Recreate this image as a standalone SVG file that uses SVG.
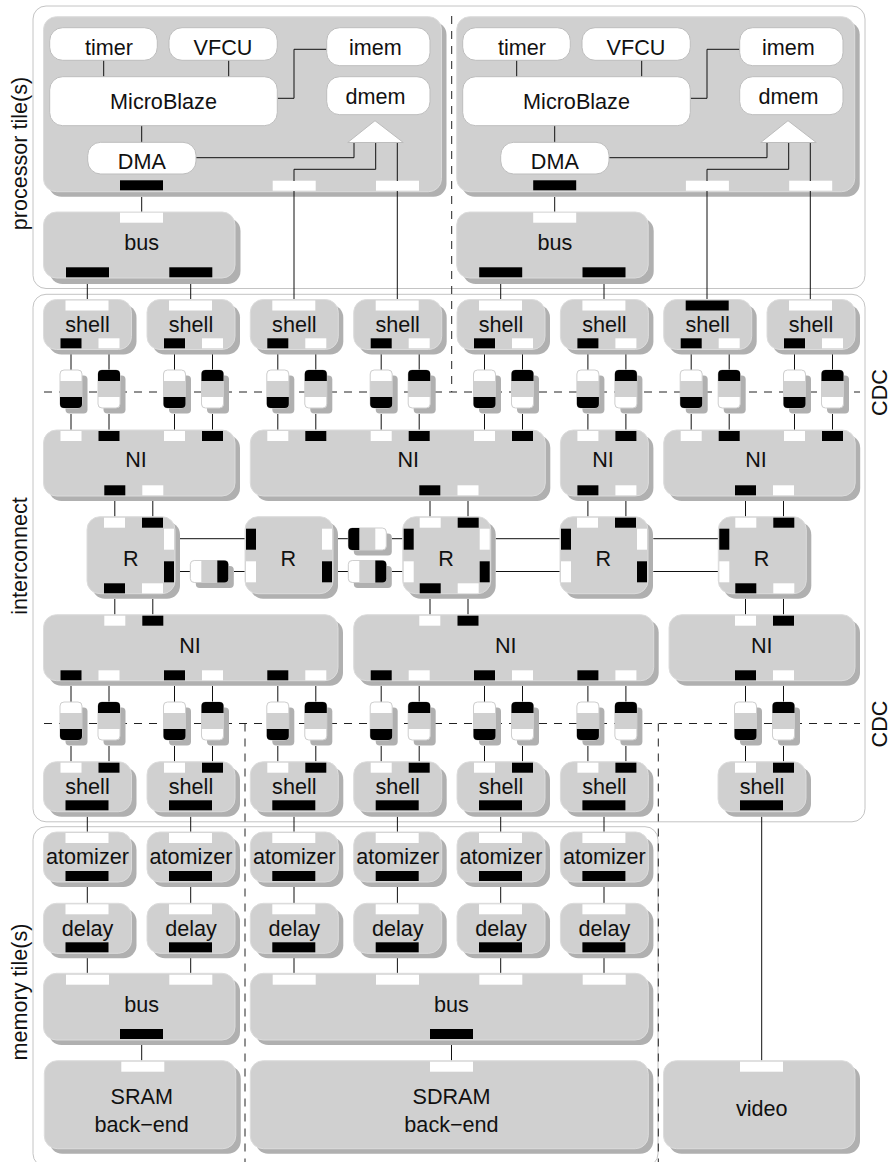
<svg xmlns="http://www.w3.org/2000/svg" width="888" height="1162" viewBox="0 0 888 1162">
<style>
text{font-family:"Liberation Sans",Arial,sans-serif;font-size:21.6px;fill:#111;text-anchor:middle}
.f{fill:none;stroke:#c4c4c4;stroke-width:1}
.sh{fill:#b0b0b0}
.n{fill:#d0d0d0;stroke:#dcdcdc;stroke-width:1}
.r{rx:13px;ry:13px}
.m{fill:#fff;stroke:#bdbdbd;stroke-width:1;rx:13px;ry:13px}
.k{fill:#000}
.w{fill:#fff}
.s{width:21px;height:10px}
.l{width:43px;height:10px}
.v{width:10px;height:21px}
.c{fill:#d0d0d0}
.o{fill:none;stroke:#cfcfcf;stroke-width:1}
#connectors path{fill:none;stroke:#111;stroke-width:1}
#boundaries path{fill:none;stroke:#222;stroke-width:1;stroke-dasharray:8 7}
</style>
<defs>
<g id="b88"><rect class="sh r" x="5" y="5" width="88" height="50"/><rect class="n r" width="88" height="50"/></g>
<g id="shellUp"><use href="#b88"/><rect class="k s" x="17" y="38.8"/><rect class="w s" x="55" y="38.8"/></g>
<g id="shellDn"><use href="#b88"/><rect class="w s" x="17" y="1"/><rect class="k s" x="55" y="1"/><rect class="k l" x="22" y="38.6"/></g>
<g id="stage"><use href="#b88"/><rect class="w l" x="22" y="1"/><rect class="k l" x="22" y="39"/></g>
<g id="cdcA"><rect class="sh" x="5.5" y="5.5" width="22" height="38" rx="4"/><rect class="c" width="22" height="38" rx="4"/><path class="w" d="M0 11V4a4 4 0 0 1 4-4h14a4 4 0 0 1 4 4v7z"/><rect class="o" width="22" height="38" rx="4"/><path class="k" d="M0 27h22v7a4 4 0 0 1-4 4H4a4 4 0 0 1-4-4z"/></g>
<g id="cdcB"><rect class="sh" x="5.5" y="5.5" width="22" height="38" rx="4"/><rect class="c" width="22" height="38" rx="4"/><path class="w" d="M0 27h22v7a4 4 0 0 1-4 4H4a4 4 0 0 1-4-4z"/><rect class="o" width="22" height="38" rx="4"/><path class="k" d="M0 11V4a4 4 0 0 1 4-4h14a4 4 0 0 1 4 4v7z"/></g>
<g id="cdcH"><rect class="sh" x="5.5" y="5.5" width="38" height="22" rx="4"/><rect class="c" width="38" height="22" rx="4"/><path class="w" d="M11 0H4a4 4 0 0 0-4 4v14a4 4 0 0 0 4 4h7z"/><rect class="o" width="38" height="22" rx="4"/><path class="k" d="M27 0h7a4 4 0 0 1 4 4v14a4 4 0 0 1-4 4h-7z"/></g>
<g id="cdcI"><rect class="sh" x="5.5" y="5.5" width="38" height="22" rx="4"/><rect class="c" width="38" height="22" rx="4"/><path class="w" d="M27 0h7a4 4 0 0 1 4 4v14a4 4 0 0 1-4 4h-7z"/><rect class="o" width="38" height="22" rx="4"/><path class="k" d="M11 0H4a4 4 0 0 0-4 4v14a4 4 0 0 0 4 4h7z"/></g>
<g id="router"><rect class="sh r" x="5" y="5" width="88" height="77"/><rect class="n r" width="88" height="77"/></g>
<g id="proc"><rect class="sh r" x="5" y="5" width="398" height="175"/><rect class="n r" width="398" height="175"/></g>
</defs>

<g id="frames">
<rect class="f" x="33" y="6" width="832" height="282.5" rx="13"/>
<rect class="f" x="33" y="294.3" width="832" height="527.5" rx="13"/>
<rect class="f" x="33" y="826.7" width="625" height="340" rx="13"/>
</g>

<g id="boundaries">
<path d="M44 392H860"/>
<path d="M44 723.5H860"/>
<path d="M451.7 16V392"/>
<path d="M245 723.5V1162"/>
<path d="M658.3 723.5V1162"/>
</g>

<g id="processor-a" transform="translate(43.5 16.7)"><use href="#proc"/><rect class="k l" x="76.5" y="163.6"/><rect class="w l" x="229.2" y="164"/><rect class="w l" x="332.5" y="164"/></g>
<g id="processor-b" transform="translate(456.7 16.7)"><use href="#proc"/><rect class="k l" x="76.5" y="163.6"/><rect class="w l" x="229.2" y="164"/><rect class="w l" x="332.5" y="164"/></g>

<g id="connectors">
<path d="M103.7 60V77"/><path d="M228.7 60V77"/><path d="M141.7 125V143"/>
<path d="M277.5 98.3H294V49.3H327"/><path d="M196 157.7H354V142.3"/><path d="M294 181V169.3H375.7V142.3"/><path d="M397.3 181V142.3"/>
<path d="M516.7 60V77"/><path d="M641.7 60V77"/><path d="M554.7 125V143"/>
<path d="M690.5 98.3H707V49.3H740"/><path d="M609 157.7H767V142.3"/><path d="M707 181V169.3H788.7V142.3"/><path d="M810.3 181V142.3"/>
<path d="M141.7 197V212"/><path d="M554.7 197V212"/>
<path d="M87.3 284V299"/><path d="M190.7 284V299"/><path d="M294 191V299"/><path d="M397.3 191V299"/>
<path d="M500.7 284V299"/><path d="M604 284V299"/><path d="M707 191V299"/><path d="M810.3 191V299"/>

<path d="M71 354V370"/><path d="M71 414V430"/><path d="M109 354V370"/><path d="M109 414V430"/>
<path d="M174.5 354V370"/><path d="M174.5 414V430"/><path d="M212.5 354V370"/><path d="M212.5 414V430"/>
<path d="M277.8 354V370"/><path d="M277.8 414V430"/><path d="M315.8 354V370"/><path d="M315.8 414V430"/>
<path d="M381.2 354V370"/><path d="M381.2 414V430"/><path d="M419.2 354V370"/><path d="M419.2 414V430"/>
<path d="M484.5 354V370"/><path d="M484.5 414V430"/><path d="M522.5 354V370"/><path d="M522.5 414V430"/>
<path d="M587.9 354V370"/><path d="M587.9 414V430"/><path d="M625.9 354V370"/><path d="M625.9 414V430"/>
<path d="M691.2 354V370"/><path d="M691.2 414V430"/><path d="M729.2 354V370"/><path d="M729.2 414V430"/>
<path d="M794.5 354V370"/><path d="M794.5 414V430"/><path d="M832.5 354V370"/><path d="M832.5 414V430"/>

<path d="M114.8 501V517"/><path d="M152.8 501V517"/><path d="M430 501V517"/><path d="M468 501V517"/>
<path d="M587.9 501V517"/><path d="M625.9 501V517"/><path d="M745.5 501V517"/><path d="M783.5 501V517"/>
<path d="M114.8 599V615"/><path d="M152.8 599V615"/><path d="M430 599V615"/><path d="M468 599V615"/>
<path d="M745.5 599V615"/><path d="M783.5 599V615"/>

<path d="M180 538.7H245"/><path d="M180 571.5H190"/><path d="M234 571.5H245"/>
<path d="M338 538.7H348"/><path d="M392 538.7H403"/><path d="M338 571.5H348"/><path d="M392 571.5H403"/>
<path d="M495.7 538.7H560"/><path d="M495.7 571.5H560"/>
<path d="M653.3 538.7H718"/><path d="M653.3 571.5H718"/>

<path d="M71 686V702"/><path d="M71 746V761.7"/><path d="M109 686V702"/><path d="M109 746V761.7"/>
<path d="M174.5 686V702"/><path d="M174.5 746V761.7"/><path d="M212.5 686V702"/><path d="M212.5 746V761.7"/>
<path d="M277.8 686V702"/><path d="M277.8 746V761.7"/><path d="M315.8 686V702"/><path d="M315.8 746V761.7"/>
<path d="M381.2 686V702"/><path d="M381.2 746V761.7"/><path d="M419.2 686V702"/><path d="M419.2 746V761.7"/>
<path d="M484.5 686V702"/><path d="M484.5 746V761.7"/><path d="M522.5 686V702"/><path d="M522.5 746V761.7"/>
<path d="M587.9 686V702"/><path d="M587.9 746V761.7"/><path d="M625.9 686V702"/><path d="M625.9 746V761.7"/>
<path d="M745.5 686V702"/><path d="M745.5 746V761.7"/><path d="M783.5 686V702"/><path d="M783.5 746V761.7"/>

<path d="M87.3 816.7V832"/><path d="M190.7 816.7V832"/><path d="M294 816.7V832"/><path d="M397.4 816.7V832"/><path d="M500.7 816.7V832"/><path d="M604 816.7V832"/><path d="M761.7 816.7V1060.7"/>
<path d="M87.3 887V903.3"/><path d="M190.7 887V903.3"/><path d="M294 887V903.3"/><path d="M397.4 887V903.3"/><path d="M500.7 887V903.3"/><path d="M604 887V903.3"/>
<path d="M87.3 958V973.3"/><path d="M190.7 958V973.3"/><path d="M294 958V973.3"/><path d="M397.4 958V973.3"/><path d="M500.7 958V973.3"/><path d="M604 958V973.3"/>
<path d="M141.7 1045V1060.7"/><path d="M451.5 1045V1060.7"/>
</g>

<g id="timer-a"><rect class="m" x="49.7" y="27.7" width="107.6" height="32.6"/><text x="109" y="55">timer</text></g>
<g id="vfcu-a"><rect class="m" x="169" y="27.7" width="108.3" height="32.6"/><text x="223" y="55">VFCU</text></g>
<g id="microblaze-a"><rect class="m" x="49.7" y="76.7" width="227.6" height="49"/><text x="163.5" y="109">MicroBlaze</text></g>
<g id="dma-a"><rect class="m" x="87.7" y="142.3" width="108.3" height="31.7"/><text x="141.8" y="169">DMA</text></g>
<g id="imem-a"><rect class="m" x="326.7" y="27.7" width="103.3" height="38"/><text x="375.4" y="55">imem</text></g>
<g id="dmem-a"><rect class="m" x="326.7" y="76.7" width="103.3" height="38"/><text x="375.4" y="104">dmem</text></g>
<g id="arbiter-a"><path d="M375 120.7L403.3 142.5H347.7Z" fill="#fff" stroke="#bdbdbd"/></g>

<g id="timer-b"><rect class="m" x="462.7" y="27.7" width="107.6" height="32.6"/><text x="522" y="55">timer</text></g>
<g id="vfcu-b"><rect class="m" x="582" y="27.7" width="108.3" height="32.6"/><text x="636" y="55">VFCU</text></g>
<g id="microblaze-b"><rect class="m" x="462.7" y="76.7" width="227.6" height="49"/><text x="576.5" y="109">MicroBlaze</text></g>
<g id="dma-b"><rect class="m" x="500.7" y="142.3" width="108.3" height="31.7"/><text x="554.8" y="169">DMA</text></g>
<g id="imem-b"><rect class="m" x="739.7" y="27.7" width="103.3" height="38"/><text x="788.4" y="55">imem</text></g>
<g id="dmem-b"><rect class="m" x="739.7" y="76.7" width="103.3" height="38"/><text x="788.4" y="104">dmem</text></g>
<g id="arbiter-b"><path d="M788 120.7L816.3 142.5H760.7Z" fill="#fff" stroke="#bdbdbd"/></g>

<g id="bus-a"><rect class="sh r" x="49.5" y="218" width="191" height="66"/><rect class="n r" x="43.5" y="212" width="191.5" height="66"/><rect class="w l" x="120" y="212.7"/><rect class="k l" x="66" y="267.3"/><rect class="k l" x="169.3" y="267.3"/><text x="141.7" y="250">bus</text></g>
<g id="bus-b"><rect class="sh r" x="462.7" y="218" width="191" height="66"/><rect class="n r" x="456.7" y="212" width="191.5" height="66"/><rect class="w l" x="533.2" y="212.7"/><rect class="k l" x="479.2" y="267.3"/><rect class="k l" x="582.5" y="267.3"/><text x="554.9" y="250">bus</text></g>

<g id="shell-t0" transform="translate(43.5 299.5)"><use href="#shellUp"/><rect class="w l" x="22" y="1"/><text x="44" y="32.2">shell</text></g>
<g id="shell-t1" transform="translate(147 299.5)"><use href="#shellUp"/><rect class="w l" x="22" y="1"/><text x="44" y="32.2">shell</text></g>
<g id="shell-t2" transform="translate(250.3 299.5)"><use href="#shellUp"/><rect class="w l" x="22" y="1"/><text x="44" y="32.2">shell</text></g>
<g id="shell-t3" transform="translate(353.7 299.5)"><use href="#shellUp"/><rect class="w l" x="22" y="1"/><text x="44" y="32.2">shell</text></g>
<g id="shell-t4" transform="translate(457 299.5)"><use href="#shellUp"/><rect class="w l" x="22" y="1"/><text x="44" y="32.2">shell</text></g>
<g id="shell-t5" transform="translate(560.4 299.5)"><use href="#shellUp"/><rect class="w l" x="22" y="1"/><text x="44" y="32.2">shell</text></g>
<g id="shell-t6" transform="translate(663.7 299.5)"><use href="#shellUp"/><rect class="k l" x="22" y="1"/><text x="44" y="32.2">shell</text></g>
<g id="shell-t7" transform="translate(767 299.5)"><use href="#shellUp"/><rect class="w l" x="22" y="1"/><text x="44" y="32.2">shell</text></g>

<g id="cdc-t0a" transform="translate(60 370)"><use href="#cdcA"/></g><g id="cdc-t0b" transform="translate(98 370)"><use href="#cdcB"/></g>
<g id="cdc-t1a" transform="translate(163.5 370)"><use href="#cdcA"/></g><g id="cdc-t1b" transform="translate(201.5 370)"><use href="#cdcB"/></g>
<g id="cdc-t2a" transform="translate(266.8 370)"><use href="#cdcA"/></g><g id="cdc-t2b" transform="translate(304.8 370)"><use href="#cdcB"/></g>
<g id="cdc-t3a" transform="translate(370.2 370)"><use href="#cdcA"/></g><g id="cdc-t3b" transform="translate(408.2 370)"><use href="#cdcB"/></g>
<g id="cdc-t4a" transform="translate(473.5 370)"><use href="#cdcA"/></g><g id="cdc-t4b" transform="translate(511.5 370)"><use href="#cdcB"/></g>
<g id="cdc-t5a" transform="translate(576.9 370)"><use href="#cdcA"/></g><g id="cdc-t5b" transform="translate(614.9 370)"><use href="#cdcB"/></g>
<g id="cdc-t6a" transform="translate(680.2 370)"><use href="#cdcA"/></g><g id="cdc-t6b" transform="translate(718.2 370)"><use href="#cdcB"/></g>
<g id="cdc-t7a" transform="translate(783.5 370)"><use href="#cdcA"/></g><g id="cdc-t7b" transform="translate(821.5 370)"><use href="#cdcB"/></g>

<g id="ni-t0"><rect class="sh r" x="48.5" y="435" width="191.5" height="66"/><rect class="n r" x="43.5" y="430" width="191.5" height="66"/>
<rect class="w s" x="60.5" y="431"/><rect class="k s" x="98.5" y="431"/><rect class="w s" x="164" y="431"/><rect class="k s" x="202" y="431"/>
<rect class="k s" x="104.3" y="485.3"/><rect class="w s" x="142.3" y="485.3"/><text x="136" y="467.3">NI</text></g>
<g id="ni-t1"><rect class="sh r" x="255.3" y="435" width="295" height="66"/><rect class="n r" x="250.3" y="430" width="295" height="66"/>
<rect class="w s" x="267.3" y="431"/><rect class="k s" x="305.3" y="431"/><rect class="w s" x="370.7" y="431"/><rect class="k s" x="408.7" y="431"/><rect class="w s" x="474" y="431"/><rect class="k s" x="512" y="431"/>
<rect class="k s" x="419.3" y="485.3"/><rect class="w s" x="457.5" y="485.3"/><text x="408.3" y="467.3">NI</text></g>
<g id="ni-t2"><rect class="sh r" x="565.4" y="435" width="88" height="66"/><rect class="n r" x="560.4" y="430" width="88" height="66"/>
<rect class="w s" x="577.4" y="431"/><rect class="k s" x="615.4" y="431"/>
<rect class="k s" x="577.4" y="485.3"/><rect class="w s" x="615.4" y="485.3"/><text x="603" y="467.3">NI</text></g>
<g id="ni-t3"><rect class="sh r" x="668.7" y="435" width="191.5" height="66"/><rect class="n r" x="663.7" y="430" width="191.5" height="66"/>
<rect class="w s" x="680.7" y="431"/><rect class="k s" x="718.7" y="431"/><rect class="w s" x="784" y="431"/><rect class="k s" x="822" y="431"/>
<rect class="k s" x="735" y="485.3"/><rect class="w s" x="773" y="485.3"/><text x="756" y="467.3">NI</text></g>

<g id="r0" transform="translate(87 516.7)"><use href="#router"/><rect class="w s" x="17" y="1"/><rect class="k s" x="55" y="1"/><rect class="w v" x="77" y="12"/><rect class="k v" x="77" y="44.6"/><rect class="k s" x="17" y="66.6"/><rect class="w s" x="55" y="66.6"/><text x="43.7" y="49.3">R</text></g>
<g id="r1" transform="translate(245 516.7)"><use href="#router"/><rect class="k v" x="1" y="12"/><rect class="w v" x="1" y="44.6"/><rect class="w v" x="77" y="12"/><rect class="k v" x="77" y="44.6"/><text x="43.3" y="49.3">R</text></g>
<g id="r2" transform="translate(402.7 516.7)"><use href="#router"/><rect class="w s" x="17" y="1"/><rect class="k s" x="55" y="1"/><rect class="k v" x="1" y="12"/><rect class="w v" x="1" y="44.6"/><rect class="w v" x="77" y="12"/><rect class="k v" x="77" y="44.6"/><rect class="k s" x="17" y="66.6"/><rect class="w s" x="55" y="66.6"/><text x="43.3" y="49.3">R</text></g>
<g id="r3" transform="translate(560 516.7)"><use href="#router"/><rect class="w s" x="17" y="1"/><rect class="k s" x="55" y="1"/><rect class="k v" x="1" y="12"/><rect class="w v" x="1" y="44.6"/><rect class="w v" x="77" y="12"/><rect class="k v" x="77" y="44.6"/><text x="43.3" y="49.3">R</text></g>
<g id="r4" transform="translate(718.3 516.7)"><use href="#router"/><rect class="w s" x="17" y="1"/><rect class="k s" x="55" y="1"/><rect class="k v" x="1" y="12"/><rect class="w v" x="1" y="44.6"/><rect class="k s" x="17" y="66.6"/><rect class="w s" x="55" y="66.6"/><text x="43.3" y="49.3">R</text></g>

<g id="cdc-h0" transform="translate(190.3 560.5)"><use href="#cdcH"/></g>
<g id="cdc-h1" transform="translate(348.3 528)"><use href="#cdcI"/></g>
<g id="cdc-h2" transform="translate(348.3 560.5)"><use href="#cdcH"/></g>

<g id="ni-b0"><rect class="sh r" x="48.5" y="619.7" width="294.5" height="66"/><rect class="n r" x="43.5" y="614.7" width="294.5" height="66"/>
<rect class="w s" x="104.3" y="615.7"/><rect class="k s" x="142.3" y="615.7"/>
<rect class="k s" x="60.5" y="670.3"/><rect class="w s" x="98.5" y="670.3"/><rect class="k s" x="164" y="670.3"/><rect class="w s" x="202" y="670.3"/><rect class="k s" x="267.3" y="670.3"/><rect class="w s" x="305.3" y="670.3"/><text x="190" y="652.7">NI</text></g>
<g id="ni-b1"><rect class="sh r" x="358.7" y="619.7" width="300" height="66"/><rect class="n r" x="353.7" y="614.7" width="300" height="66"/>
<rect class="w s" x="419.3" y="615.7"/><rect class="k s" x="457.5" y="615.7"/>
<rect class="k s" x="370.7" y="670.3"/><rect class="w s" x="408.7" y="670.3"/><rect class="k s" x="474" y="670.3"/><rect class="w s" x="512" y="670.3"/><rect class="k s" x="577.4" y="670.3"/><rect class="w s" x="615.4" y="670.3"/><text x="505.7" y="652.7">NI</text></g>
<g id="ni-b2"><rect class="sh r" x="674" y="619.7" width="186" height="66"/><rect class="n r" x="669" y="614.7" width="186" height="66"/>
<rect class="w s" x="735" y="615.7"/><rect class="k s" x="773" y="615.7"/>
<rect class="k s" x="735" y="670.3"/><rect class="w s" x="773" y="670.3"/><text x="761.7" y="652.7">NI</text></g>

<g id="cdc-b0a" transform="translate(60 702)"><use href="#cdcA"/></g><g id="cdc-b0b" transform="translate(98 702)"><use href="#cdcB"/></g>
<g id="cdc-b1a" transform="translate(163.5 702)"><use href="#cdcA"/></g><g id="cdc-b1b" transform="translate(201.5 702)"><use href="#cdcB"/></g>
<g id="cdc-b2a" transform="translate(266.8 702)"><use href="#cdcA"/></g><g id="cdc-b2b" transform="translate(304.8 702)"><use href="#cdcB"/></g>
<g id="cdc-b3a" transform="translate(370.2 702)"><use href="#cdcA"/></g><g id="cdc-b3b" transform="translate(408.2 702)"><use href="#cdcB"/></g>
<g id="cdc-b4a" transform="translate(473.5 702)"><use href="#cdcA"/></g><g id="cdc-b4b" transform="translate(511.5 702)"><use href="#cdcB"/></g>
<g id="cdc-b5a" transform="translate(576.9 702)"><use href="#cdcA"/></g><g id="cdc-b5b" transform="translate(614.9 702)"><use href="#cdcB"/></g>
<g id="cdc-b6a" transform="translate(734.5 702)"><use href="#cdcA"/></g><g id="cdc-b6b" transform="translate(772.5 702)"><use href="#cdcB"/></g>

<g id="shell-b0" transform="translate(43.5 761.7)"><use href="#shellDn"/><text x="44" y="32.6">shell</text></g>
<g id="shell-b1" transform="translate(147 761.7)"><use href="#shellDn"/><text x="44" y="32.6">shell</text></g>
<g id="shell-b2" transform="translate(250.3 761.7)"><use href="#shellDn"/><text x="44" y="32.6">shell</text></g>
<g id="shell-b3" transform="translate(353.7 761.7)"><use href="#shellDn"/><text x="44" y="32.6">shell</text></g>
<g id="shell-b4" transform="translate(457 761.7)"><use href="#shellDn"/><text x="44" y="32.6">shell</text></g>
<g id="shell-b5" transform="translate(560.4 761.7)"><use href="#shellDn"/><text x="44" y="32.6">shell</text></g>
<g id="shell-b6" transform="translate(718 761.7)"><use href="#shellDn"/><text x="44" y="32.6">shell</text></g>

<g id="atomizer-0" transform="translate(43.5 832)"><use href="#stage"/><text x="44" y="32.3">atomizer</text></g>
<g id="atomizer-1" transform="translate(147 832)"><use href="#stage"/><text x="44" y="32.3">atomizer</text></g>
<g id="atomizer-2" transform="translate(250.3 832)"><use href="#stage"/><text x="44" y="32.3">atomizer</text></g>
<g id="atomizer-3" transform="translate(353.7 832)"><use href="#stage"/><text x="44" y="32.3">atomizer</text></g>
<g id="atomizer-4" transform="translate(457 832)"><use href="#stage"/><text x="44" y="32.3">atomizer</text></g>
<g id="atomizer-5" transform="translate(560.4 832)"><use href="#stage"/><text x="44" y="32.3">atomizer</text></g>

<g id="delay-0" transform="translate(43.5 903.3)"><use href="#stage"/><text x="44" y="32.3">delay</text></g>
<g id="delay-1" transform="translate(147 903.3)"><use href="#stage"/><text x="44" y="32.3">delay</text></g>
<g id="delay-2" transform="translate(250.3 903.3)"><use href="#stage"/><text x="44" y="32.3">delay</text></g>
<g id="delay-3" transform="translate(353.7 903.3)"><use href="#stage"/><text x="44" y="32.3">delay</text></g>
<g id="delay-4" transform="translate(457 903.3)"><use href="#stage"/><text x="44" y="32.3">delay</text></g>
<g id="delay-5" transform="translate(560.4 903.3)"><use href="#stage"/><text x="44" y="32.3">delay</text></g>

<g id="bus-mem-a"><rect class="sh r" x="48.5" y="978.3" width="191.5" height="66.7"/><rect class="n r" x="43.5" y="973.3" width="191.5" height="66.7"/><rect class="w l" x="66" y="974.7"/><rect class="w l" x="169.3" y="974.7"/><rect class="k l" x="120" y="1029"/><text x="141.7" y="1011.7">bus</text></g>
<g id="bus-mem-b"><rect class="sh r" x="255.3" y="978.3" width="398" height="66.7"/><rect class="n r" x="250.3" y="973.3" width="398" height="66.7"/><rect class="w l" x="272.7" y="974.7"/><rect class="w l" x="376" y="974.7"/><rect class="w l" x="479.3" y="974.7"/><rect class="w l" x="582.7" y="974.7"/><rect class="k l" x="430" y="1029"/><text x="451.5" y="1011.7">bus</text></g>

<g id="sram"><rect class="sh r" x="49.3" y="1065.7" width="191.5" height="88"/><rect class="n r" x="44.3" y="1060.7" width="191.5" height="88"/><rect class="w l" x="121.3" y="1061.7"/><text x="141.7" y="1104">SRAM</text><text x="141.7" y="1131.7">back−end</text></g>
<g id="sdram"><rect class="sh r" x="255.3" y="1065.7" width="398" height="88"/><rect class="n r" x="250.3" y="1060.7" width="398" height="88"/><rect class="w l" x="430" y="1061.7"/><text x="451.5" y="1104">SDRAM</text><text x="451.5" y="1131.7">back−end</text></g>
<g id="video"><rect class="sh r" x="668.5" y="1065.7" width="191.5" height="88"/><rect class="n r" x="663.5" y="1060.7" width="191.5" height="88"/><rect class="w l" x="740" y="1061.7"/><text x="761.7" y="1115.7">video</text></g>

<g id="labels">
<text transform="translate(27.3 153.5) rotate(-90)">processor tile(s)</text>
<text transform="translate(27.3 556) rotate(-90)">interconnect</text>
<text transform="translate(27.3 992) rotate(-90)">memory tile(s)</text>
<text transform="translate(886.5 392.5) rotate(-90)">CDC</text>
<text transform="translate(886.5 724) rotate(-90)">CDC</text>
</g>
</svg>
